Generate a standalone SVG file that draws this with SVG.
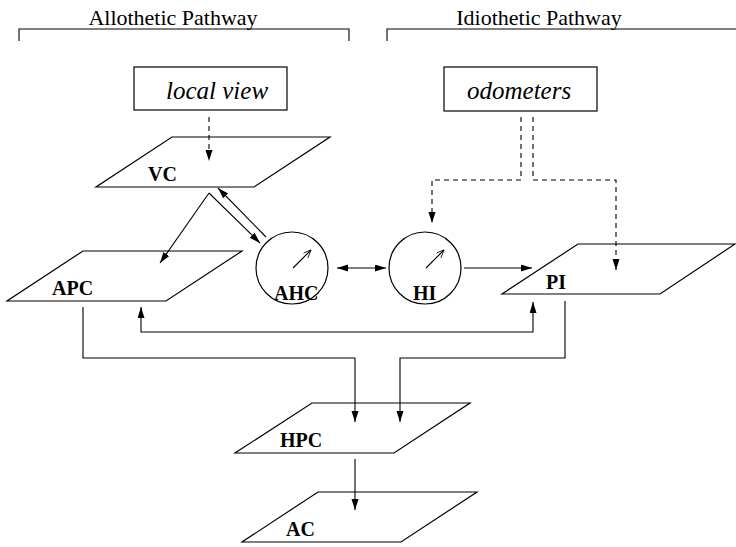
<svg xmlns="http://www.w3.org/2000/svg" width="736" height="547" viewBox="0 0 736 547">
<defs>
<marker id="ah" markerUnits="userSpaceOnUse" markerWidth="12" markerHeight="8" refX="11" refY="3.5" orient="auto-start-reverse">
<path d="M0,0 L11,3.5 L0,7 z" fill="#000"/>
</marker>
<marker id="sh" markerUnits="userSpaceOnUse" markerWidth="10" markerHeight="8" refX="8" refY="3.5" orient="auto">
<path d="M0,0 L8,3.5 L0,7" fill="none" stroke="#000" stroke-width="0.8"/>
<path d="M2,3.5 L8,3.5" stroke="#000" stroke-width="0.8"/>
</marker>
</defs>
<style>
.hdr{font-family:"Liberation Serif","Times New Roman","DejaVu Serif",serif;font-size:22px;fill:#000}
.it{font-family:"Liberation Serif","Times New Roman","DejaVu Serif",serif;font-style:italic;font-size:25px;fill:#000}
.lb{font-family:"Liberation Serif","Times New Roman","DejaVu Serif",serif;font-weight:bold;font-size:20px;fill:#000}
.sh{fill:#fff;stroke:#000;stroke-width:1.2}
.ln{fill:none;stroke:#000;stroke-width:1.1}
.ar{marker-end:url(#ah)}
.da{stroke-dasharray:5,4}
</style>
<rect width="736" height="547" fill="#fff"/>
<g id="headers">
<text class="hdr" x="173" y="25" text-anchor="middle">Allothetic Pathway</text>
<text class="hdr" x="539" y="25" text-anchor="middle">Idiothetic Pathway</text>
<path class="ln" d="M19,41 V29 H349 V41"/>
<path class="ln" d="M387,41 V29 H736"/>
</g>
<g id="localview">
<rect class="sh" x="134" y="67" width="153" height="43"/>
<text class="it" x="166" y="99">local view</text>
</g>
<g id="odometers">
<rect class="sh" x="444" y="67" width="153" height="44"/>
<text class="it" x="467" y="99">odometers</text>
</g>
<g id="VC">
<polygon class="sh" points="172,137 330,137 254,187 96,187"/>
<text class="lb" x="148" y="181">VC</text>
</g>
<g id="APC">
<polygon class="sh" points="83,251 242,251 166,301 7,301"/>
<text class="lb" x="52" y="295">APC</text>
</g>
<g id="AHC">
<circle class="sh" cx="292" cy="268" r="36"/>
<path class="ln" d="M293,268 L311,250" marker-end="url(#sh)"/>
<text class="lb" x="274" y="300">AHC</text>
</g>
<g id="HI">
<circle class="sh" cx="425" cy="268" r="36"/>
<path class="ln" d="M426,268 L444,250" marker-end="url(#sh)"/>
<text class="lb" x="413" y="300">HI</text>
</g>
<g id="PI">
<polygon class="sh" points="578,244 735,244 660,294 502,294"/>
<text class="lb" x="546" y="289">PI</text>
</g>
<g id="HPC">
<polygon class="sh" points="312,403 470,403 394,453 235,453"/>
<text class="lb" x="280" y="447">HPC</text>
</g>
<g id="AC">
<polygon class="sh" points="318,492 477,492 401,542 242,542"/>
<text class="lb" x="286" y="536">AC</text>
</g>
<g id="connectors">
<path class="ln da ar" d="M209,117 V161"/>
<path class="ln ar" d="M209,193 L160,263"/>
<path class="ln ar" d="M209,193 L260,243"/>
<path class="ln ar" d="M266,237 L218,188"/>
<path class="ln ar" d="M337,268 H386" marker-start="url(#ah)"/>
<path class="ln ar" d="M464,268 H532"/>
<path class="ln da ar" d="M521,117 V180 H432 V223"/>
<path class="ln da ar" d="M533,117 V180 H616 V270"/>
<path class="ln ar" d="M141,307 V332 H533 V302" marker-start="url(#ah)"/>
<path class="ln ar" d="M83,307 V358 H355 V422"/>
<path class="ln ar" d="M565,301 V358 H400 V422"/>
<path class="ln ar" d="M355,459 V510"/>
</g>
</svg>
